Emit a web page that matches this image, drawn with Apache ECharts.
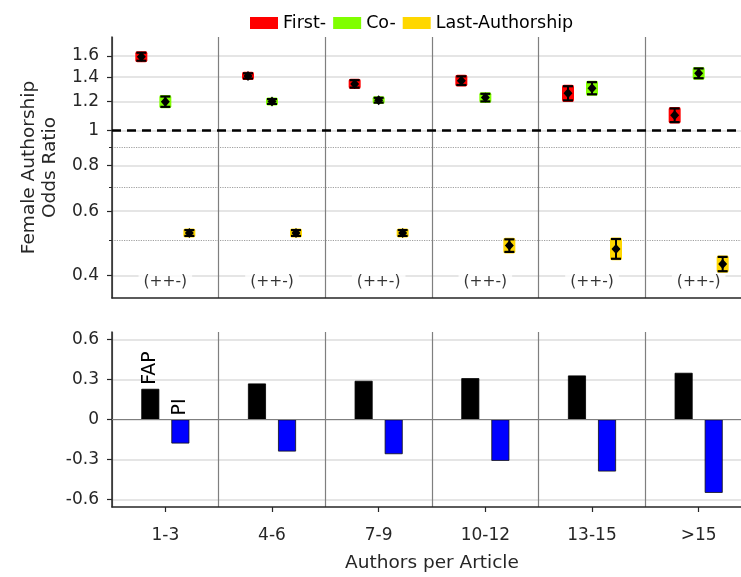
<!DOCTYPE html>
<html><head><meta charset="utf-8">
<script src="https://cdn.jsdelivr.net/npm/echarts@6/dist/echarts.min.js"></script>
<style>html,body{margin:0;padding:0;background:#fff}#c{width:741px;height:577px}</style>
</head><body><div id="c"></div>
<script>
const categories = ['1-3', '4-6', '7-9', '10-12', '13-15', '>15'];
const legendNames = ['First-', 'Co-', 'Last-Authorship'];

const firstEst = [1.593, 1.410, 1.341, 1.369, 1.264, 1.100];
const firstLo  = [1.573, 1.405, 1.327, 1.349, 1.224, 1.067];
const firstHi  = [1.613, 1.416, 1.356, 1.389, 1.305, 1.134];

const coEst = [1.199, 1.200, 1.210, 1.230, 1.305, 1.434];
const coLo  = [1.175, 1.197, 1.207, 1.216, 1.272, 1.408];
const coHi  = [1.223, 1.203, 1.213, 1.244, 1.339, 1.460];

const lastEst = [0.523, 0.523, 0.523, 0.483, 0.473, 0.430];
const lastLo  = [0.520, 0.520, 0.520, 0.470, 0.450, 0.416];
const lastHi  = [0.526, 0.526, 0.526, 0.496, 0.497, 0.444];

const sigLabels = ['(++-)', '(++-)', '(++-)', '(++-)', '(++-)', '(++-)'];

const fapValues = [0.23, 0.27, 0.29, 0.31, 0.33, 0.35];
const piValues  = [-0.18, -0.24, -0.26, -0.31, -0.39, -0.55];

const oddsTicks = [0.4, 0.6, 0.8, 1, 1.2, 1.4, 1.6];
const oddsMinorTicks = [0.5, 0.7, 0.9];
const diffTicks = [-0.6, -0.3, 0, 0.3, 0.6];

const FONT = 'DejaVu Sans';
const TXT = '#262626';
const L = Math.log10;

function ciSeries(name, est, lo, hi, color, dx) {
  return {
    name: name, type: 'custom', xAxisIndex: 0, yAxisIndex: 0, z: 5,
    itemStyle: { color: color },
    encode: { x: 0, y: 1 },
    data: est.map((v, i) => [i, L(v), L(lo[i]), L(hi[i])]),
    renderItem: function (params, api) {
      const c = api.coord([api.value(0), api.value(1)]);
      const pl = api.coord([api.value(0), api.value(2)]);
      const ph = api.coord([api.value(0), api.value(3)]);
      const x = c[0] + dx;
      const yT = ph[1], yB = pl[1];
      return { type: 'group', children: [
        { type: 'rect', shape: { x: x - 6, y: yT - 3.5, width: 12, height: yB - yT + 7, r: 2 }, style: { fill: color } },
        { type: 'line', shape: { x1: x, y1: yT - 2, x2: x, y2: yB + 2 }, style: { stroke: '#000', lineWidth: 2 } },
        { type: 'line', shape: { x1: x - 5, y1: yT - 2, x2: x + 5, y2: yT - 2 }, style: { stroke: '#000', lineWidth: 2.2 } },
        { type: 'line', shape: { x1: x - 5, y1: yB + 2, x2: x + 5, y2: yB + 2 }, style: { stroke: '#000', lineWidth: 2.2 } },
        { type: 'polygon', shape: { points: [[x, c[1] - 5], [x + 4.5, c[1]], [x, c[1] + 5], [x - 4.5, c[1]]] }, style: { fill: '#000' } }
      ] };
    }
  };
}

const chart = echarts.init(document.getElementById('c'), null, { renderer: 'canvas' });
const xBase = {
  type: 'category', data: categories, boundaryGap: true,
  axisLine: { onZero: false, lineStyle: { color: TXT, width: 1.5 } },
  splitLine: { show: true, lineStyle: { color: '#7f7f7f', width: 1.2 } }
};
chart.setOption({
  animation: false,
  backgroundColor: '#fff',
  textStyle: { fontFamily: FONT },
  legend: {
    data: legendNames.map(n => ({ name: n, icon: 'rect' })),
    left: 245, top: 9, itemWidth: 28, itemHeight: 12, itemGap: 7,
    textStyle: { fontSize: 17.5, color: '#000', fontFamily: FONT }
  },
  grid: [
    { left: 112, top: 37, width: 640, height: 261, containLabel: false, outerBoundsMode: 'none' },
    { left: 112, top: 332, width: 640, height: 175, containLabel: false, outerBoundsMode: 'none' }
  ],
  xAxis: [
    Object.assign({}, xBase, { gridIndex: 0, axisTick: { show: false }, axisLabel: { show: false } }),
    Object.assign({}, xBase, {
      gridIndex: 1,
      axisTick: { show: true, alignWithLabel: true, length: 5, lineStyle: { color: TXT, width: 1.2 } },
      axisLabel: { fontSize: 17, color: TXT, margin: 20, fontFamily: FONT },
      name: 'Authors per Article', nameLocation: 'middle', nameGap: 47,
      nameTextStyle: { fontSize: 18.5, color: TXT, fontFamily: FONT }
    })
  ],
  yAxis: [
    {
      type: 'value', gridIndex: 0, position: 'left', min: -0.4599, max: 0.2562,
      axisLine: { show: true, lineStyle: { color: TXT, width: 1.5 } },
      axisTick: { show: true, length: 5, customValues: oddsTicks.map(L), lineStyle: { color: TXT, width: 1.2 } },
      axisLabel: { customValues: oddsTicks.map(L), fontSize: 17, color: TXT, margin: 13, fontFamily: FONT,
        formatter: v => String(Math.round(Math.pow(10, v) * 10) / 10) },
      splitLine: { show: true, lineStyle: { color: '#dcdcdc', width: 1.5 } },
      name: 'Female Authorship\nOdds Ratio', nameLocation: 'middle', nameGap: 50,
      nameTextStyle: { fontSize: 18.5, color: TXT, lineHeight: 21, fontFamily: FONT }
    },
    {
      type: 'value', gridIndex: 0, position: 'left', offset: 0, min: -0.4599, max: 0.2562,
      axisLine: { show: false },
      axisTick: { show: true, length: 3, customValues: oddsMinorTicks.map(L), lineStyle: { color: TXT, width: 1 } },
      axisLabel: { show: false, customValues: oddsMinorTicks.map(L) },
      splitLine: { show: true, lineStyle: { color: '#a0a0a0', width: 1.2, type: 'dotted' } }
    },
    {
      type: 'value', gridIndex: 1, position: 'left', min: -0.656, max: 0.656,
      axisLine: { show: true, lineStyle: { color: TXT, width: 1.5 } },
      axisTick: { show: true, length: 5, customValues: diffTicks, lineStyle: { color: TXT, width: 1.2 } },
      axisLabel: { customValues: diffTicks, fontSize: 17, color: TXT, margin: 13, fontFamily: FONT,
        formatter: v => String(Math.round(v * 10) / 10) },
      splitLine: { show: true, lineStyle: { color: '#dcdcdc', width: 1.5 } }
    }
  ],
  series: [
    ciSeries(legendNames[0], firstEst, firstLo, firstHi, '#ff0000', -24),
    ciSeries(legendNames[1], coEst, coLo, coHi, '#80ff00', 0),
    ciSeries(legendNames[2], lastEst, lastLo, lastHi, '#ffd700', 24),
    {
      type: 'scatter', xAxisIndex: 0, yAxisIndex: 0, z: 4, silent: true,
      symbolSize: 1, itemStyle: { color: 'rgba(0,0,0,0)' },
      data: categories.map((c, i) => [i, L(oddsTicks[0])]),
      label: { show: true, position: 'inside', offset: [0, 7], formatter: p => sigLabels[p.dataIndex],
        fontSize: 15.5, color: '#000', backgroundColor: '#fff', padding: [2, 5], fontFamily: FONT },
      markLine: { silent: true, symbol: 'none', label: { show: false },
        lineStyle: { color: '#000', type: [9, 6], width: 2.5 }, data: [{ yAxis: 0 }] }
    },
    {
      name: 'FAP', type: 'bar', xAxisIndex: 1, yAxisIndex: 2, barWidth: 18, barGap: '67%', z: 3,
      itemStyle: { color: '#000', borderColor: '#000', borderWidth: 0.8 },
      label: { show: false, position: 'top', rotate: 90, align: 'left', verticalAlign: 'middle', distance: 4,
        formatter: 'FAP', fontSize: 19, color: '#000', fontFamily: FONT },
      data: fapValues.map((v, i) => i === 0 ? { value: v, label: { show: true } } : v)
    },
    {
      name: 'PI', type: 'bar', xAxisIndex: 1, yAxisIndex: 2, barWidth: 18, barGap: '67%', z: 3,
      itemStyle: { color: '#0000ff', borderColor: '#111', borderWidth: 0.8 },
      label: { show: false, position: 'top', rotate: 90, align: 'left', verticalAlign: 'middle', distance: 4,
        formatter: 'PI', fontSize: 19, color: '#000', fontFamily: FONT },
      data: piValues.map((v, i) => i === 0 ? { value: v, label: { show: true } } : v),
      markLine: { silent: true, symbol: 'none', label: { show: false },
        lineStyle: { color: '#7f7f7f', type: 'solid', width: 1.2 }, data: [{ yAxis: 0 }] }
    }
  ]
});
</script>
</body></html>
